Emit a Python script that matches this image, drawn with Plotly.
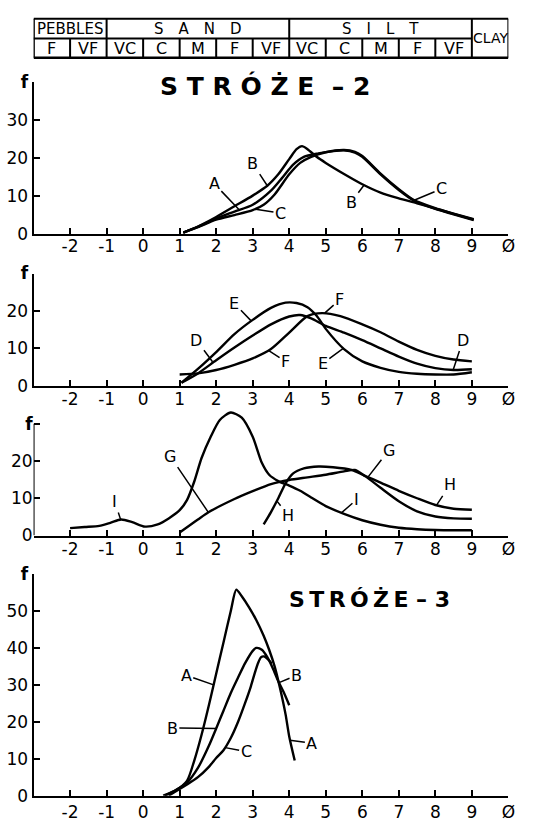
import plotly.graph_objects as go

# ---------------- data ----------------
# Header: grain-size classes along the phi scale
group_names = ["PEBBLES", "S\u2003A\u2003N\u2003D", "S\u2003I\u2003L\u2003T", "CLAY"]
group_bounds = [-3, -1, 4, 9, 10]
class_names = ["F", "VF", "VC", "C", "M", "F", "VF", "VC", "C", "M", "F", "VF"]
class_bounds = [-3, -2, -1, 0, 1, 2, 3, 4, 5, 6, 7, 8, 9]

x_tickvals = [-2, -1, 0, 1, 2, 3, 4, 5, 6, 7, 8, 9, 10]
x_ticktext = ["-2", "-1", "0", "1", "2", "3", "4", "5", "6", "7", "8", "9", "Ø"]

# Panel 1 : STRÓŻE-2, samples A, B, C
p1_A_phi = [1.1, 1.5, 2.0, 2.5, 3.0, 3.5, 3.8, 4.1, 4.4, 4.8, 5.2, 5.5, 5.8, 6.0, 6.5, 7.0, 7.4, 8.0, 8.5, 9.05]
p1_A_f = [0.5, 2.0, 4.2, 6.0, 7.8, 11.5, 14.8, 18.3, 20.4, 21.3, 21.9, 22.1, 21.5, 20.4, 15.8, 11.7, 9.0, 6.7, 5.3, 3.8]
p1_B_phi = [1.1, 1.5, 2.0, 2.5, 3.0, 3.4, 3.7, 4.0, 4.2, 4.35, 4.5, 4.75, 5.0, 5.5, 6.0, 6.5, 7.0, 7.5, 8.0, 8.5, 9.05]
p1_B_f = [0.5, 2.1, 4.6, 7.4, 10.2, 12.8, 15.8, 19.8, 22.4, 23.2, 22.4, 20.4, 18.8, 15.9, 13.2, 11.0, 9.5, 8.2, 6.8, 5.4, 3.9]
p1_C_phi = [1.1, 1.5, 2.0, 2.5, 3.0, 3.3, 3.6, 4.0, 4.3, 4.6, 5.0, 5.5, 5.8, 6.0, 6.5, 7.0, 7.4, 8.0, 8.5, 9.05]
p1_C_f = [0.5, 1.9, 3.9, 5.1, 6.4, 7.8, 10.5, 15.8, 18.8, 20.4, 21.6, 22.2, 21.7, 20.6, 16.0, 11.9, 9.1, 6.9, 5.5, 4.0]

# Panel 2 : samples D, E, F
p2_D_phi = [1.05, 1.5, 2.0, 2.5, 3.0, 3.5, 4.0, 4.3, 4.6, 5.0, 5.5, 6.0, 6.5, 7.0, 7.5, 8.0, 8.5, 9.0]
p2_D_f = [0.8, 3.3, 6.8, 10.2, 13.4, 16.4, 18.5, 18.9, 18.0, 16.0, 14.2, 12.2, 10.0, 7.8, 5.9, 4.7, 4.2, 4.4]
p2_E_phi = [1.05, 1.5, 2.0, 2.5, 3.0, 3.5, 3.9, 4.2, 4.5, 4.75, 5.0, 5.5, 6.0, 6.5, 7.0, 7.5, 8.0, 8.5, 9.0]
p2_E_f = [0.8, 4.5, 9.0, 13.8, 17.6, 20.8, 22.2, 22.1, 21.0, 18.7, 15.2, 9.8, 6.5, 4.8, 3.7, 3.2, 3.0, 3.0, 3.6]
p2_F_phi = [1.0, 1.5, 2.0, 2.5, 3.0, 3.5, 4.0, 4.5, 4.9, 5.4, 6.0, 6.5, 7.0, 7.5, 8.0, 8.5, 9.0]
p2_F_f = [3.0, 3.3, 4.2, 5.6, 7.3, 9.8, 14.2, 18.6, 19.4, 18.6, 16.4, 14.3, 11.8, 9.6, 8.0, 7.0, 6.5]

# Panel 3 : samples G, H, I
p3_G_phi = [1.0, 1.5, 1.8, 2.5, 3.0, 3.5, 4.0, 4.5, 5.0, 5.5, 5.8, 6.1, 6.5, 7.0, 7.5, 8.0, 8.5, 9.0]
p3_G_f = [0.8, 4.3, 6.3, 9.8, 11.9, 13.8, 14.9, 15.6, 16.3, 17.2, 17.6, 15.8, 12.8, 9.2, 6.5, 5.1, 4.6, 4.5]
p3_H_phi = [3.3, 3.5, 3.7, 3.9, 4.1, 4.4, 4.8, 5.2, 5.7, 6.1, 6.5, 7.0, 7.5, 8.0, 8.5, 9.0]
p3_H_f = [3.0, 6.3, 10.0, 14.0, 16.6, 18.0, 18.5, 18.3, 17.6, 15.9, 14.2, 12.0, 10.0, 8.2, 7.2, 6.9]
p3_I_phi = [-2.0, -1.6, -1.2, -0.9, -0.6, -0.3, 0.05, 0.4, 0.7, 1.0, 1.2, 1.4, 1.6, 1.85, 2.1, 2.4, 2.7,
            3.0, 3.25, 3.45, 3.7, 4.0, 4.3, 4.6, 5.0, 5.5, 6.0, 6.5, 7.0, 7.5, 8.0, 9.0]
p3_I_f = [2.0, 2.3, 2.6, 3.4, 4.3, 3.6, 2.4, 3.0, 4.6, 6.8, 9.5, 14.5, 20.8, 26.5, 31.0, 33.0, 31.6,
          26.5, 19.5, 16.3, 14.6, 13.4, 12.0, 10.2, 7.9, 5.8, 4.1, 2.9, 2.1, 1.7, 1.5, 1.4]

# Panel 4 : STRÓŻE-3, samples A, B, C
p4_A_phi = [0.55, 0.9, 1.2, 1.4, 1.6, 1.8, 2.0, 2.2, 2.4, 2.55, 2.7, 2.9, 3.1, 3.3, 3.45, 3.6, 3.75, 3.9, 4.0, 4.15]
p4_A_f = [0.0, 1.5, 4.0, 9.5, 16.5, 24.5, 33.0, 41.5, 50.0, 55.8, 54.0, 51.0, 47.5, 43.3, 39.5, 35.0, 29.0, 22.0, 16.0, 9.5]
p4_B_phi = [0.6, 0.9, 1.2, 1.5, 1.8, 2.0, 2.2, 2.4, 2.6, 2.8, 3.0, 3.1, 3.25, 3.4, 3.55, 3.7, 3.85, 4.0]
p4_B_f = [0.0, 1.5, 3.5, 7.5, 13.5, 18.2, 23.0, 27.8, 32.0, 36.0, 39.2, 40.0, 39.5, 37.5, 34.5, 31.0, 28.0, 24.5]
p4_C_phi = [0.7, 1.0, 1.2, 1.5, 1.8, 2.0, 2.2, 2.4, 2.6, 2.8, 2.95, 3.05, 3.15, 3.23, 3.31, 3.42, 3.52]
p4_C_f = [0.0, 1.8, 3.0, 5.0, 7.8, 10.2, 12.3, 15.6, 20.0, 25.3, 29.6, 33.0, 36.0, 37.5, 37.7, 36.9, 35.8]

# curve labels: (panel, text, point phi, point f, label phi, label f)
curve_labels = [
    (1, "A", 2.63, 6.5, 1.95, 13.3),
    (1, "B", 3.40, 12.8, 3.00, 18.7),
    (1, "C", 3.08, 6.6, 3.76, 5.6),
    (1, "B", 6.05, 13.0, 5.70, 8.5),
    (1, "C", 7.42, 9.0, 8.17, 12.0),
    (2, "E", 2.95, 17.4, 2.50, 22.0),
    (2, "D", 1.90, 6.4, 1.46, 12.2),
    (2, "F", 3.44, 9.4, 3.90, 6.5),
    (2, "F", 4.97, 19.4, 5.38, 23.0),
    (2, "E", 5.47, 9.9, 4.92, 6.0),
    (2, "D", 8.49, 4.3, 8.76, 12.2),
    (3, "I", -0.62, 4.4, -0.78, 9.1),
    (3, "G", 1.78, 6.3, 0.74, 21.3),
    (3, "H", 3.66, 9.3, 3.97, 5.4),
    (3, "I", 5.42, 6.0, 5.84, 9.6),
    (3, "G", 6.15, 15.6, 6.73, 22.9),
    (3, "H", 8.03, 8.1, 8.40, 13.6),
    (4, "A", 1.93, 30.0, 1.18, 32.6),
    (4, "B", 2.00, 18.2, 0.80, 18.3),
    (4, "C", 2.25, 13.0, 2.82, 11.9),
    (4, "B", 3.72, 30.6, 4.20, 32.6),
    (4, "A", 4.02, 15.0, 4.62, 14.2),
]

titles = ["S T R Ó Ż E \u00a0– 2", "S\u2009T\u2009R\u2009Ó\u2009Ż\u2009E\u00a0–\u00a03"]

# ---------------- figure ----------------
W, H = 544, 831
FONT = "DejaVu Sans"


def pyf(px):
    return (H - px) / H


x_dom = [34 / W, 515 / W]
panels = [
    dict(ydom=[pyf(230), pyf(74)], yr=[0, 40], tv=[0, 10, 20, 30, 40],
         tt=["0", "10", "20", "30", "<b>f</b>"], xso=-5),
    dict(ydom=[pyf(385), pyf(270)], yr=[0, 30], tv=[0, 10, 20, 30],
         tt=["0", "10", "20", "<b>f</b>"], xso=-3),
    dict(ydom=[pyf(538.5), pyf(406.7)], yr=[0, 34.5], tv=[0, 10, 20, 30],
         tt=["0", "10", "20", "<b>f</b>"], xso=-3),
    dict(ydom=[pyf(805), pyf(578)], yr=[0, 60], tv=[0, 10, 20, 30, 40, 50, 60],
         tt=["0", "10", "20", "30", "40", "50", "<b>f</b>"], xso=0),
]

series = {
    1: [(p1_A_phi, p1_A_f), (p1_B_phi, p1_B_f), (p1_C_phi, p1_C_f)],
    2: [(p2_D_phi, p2_D_f), (p2_E_phi, p2_E_f), (p2_F_phi, p2_F_f)],
    3: [(p3_G_phi, p3_G_f), (p3_H_phi, p3_H_f), (p3_I_phi, p3_I_f)],
    4: [(p4_A_phi, p4_A_f), (p4_B_phi, p4_B_f), (p4_C_phi, p4_C_f)],
}

fig = go.Figure()
layout = dict(
    width=W, height=H, margin=dict(l=0, r=0, t=0, b=0),
    paper_bgcolor="white", plot_bgcolor="rgba(0,0,0,0)",
    showlegend=False, font=dict(family=FONT, color="black", size=17),
)

for i, p in enumerate(panels, start=1):
    sfx = "" if i == 1 else str(i)
    layout["xaxis" + sfx] = dict(
        domain=x_dom, range=[-3, 10], anchor="y" + sfx,
        showline=True, linecolor="black", linewidth=2,
        ticks="inside", ticklen=6, tickwidth=1.5, tickcolor="black",
        tickvals=x_tickvals, ticktext=x_ticktext, ticklabelstandoff=p["xso"],
        showgrid=False, zeroline=False, fixedrange=True,
        tickfont=dict(family=FONT, size=17, color="black"),
    )
    layout["yaxis" + sfx] = dict(
        domain=p["ydom"], range=p["yr"], anchor="x" + sfx,
        showline=(i != 3), linecolor="black", linewidth=2,
        ticks="inside", ticklen=6, tickwidth=1.5, tickcolor="black",
        tickvals=p["tv"], ticktext=p["tt"],
        showgrid=False, zeroline=False, fixedrange=True,
        tickfont=dict(family=FONT, size=17, color="black"),
    )
    for xs, ys in series[i]:
        fig.add_trace(go.Scatter(
            x=xs, y=ys, mode="lines", xaxis="x" + sfx, yaxis="y" + sfx,
            line=dict(color="black", width=2.4, shape="spline", smoothing=0.7),
            hoverinfo="skip",
        ))

fig.update_layout(**layout)

shapes = []
annotations = []

# panel 3 y axis line stops at the top tick (curve I overshoots it)
shapes.append(dict(type="line", xref="x3", yref="y3", x0=-3, x1=-3, y0=0, y1=30,
                   line=dict(color="black", width=2)))

# header table
y_top, y_mid, y_bot = pyf(9), pyf(29.3), pyf(49)
lw = dict(color="black", width=2)
shapes.append(dict(type="line", xref="x", yref="paper", x0=group_bounds[0], x1=group_bounds[-1],
                   y0=y_top, y1=y_top, line=lw))
shapes.append(dict(type="line", xref="x", yref="paper", x0=group_bounds[0], x1=group_bounds[-1],
                   y0=y_bot, y1=y_bot, line=dict(color="black", width=2.6)))
shapes.append(dict(type="line", xref="x", yref="paper", x0=class_bounds[0], x1=class_bounds[-1],
                   y0=y_mid, y1=y_mid, line=lw))
for gb in group_bounds:
    shapes.append(dict(type="line", xref="x", yref="paper", x0=gb, x1=gb, y0=y_bot, y1=y_top,
                       line=dict(color="black", width=2.6 if gb == group_bounds[0] else 2)))
for cb in class_bounds:
    if cb not in group_bounds:
        shapes.append(dict(type="line", xref="x", yref="paper", x0=cb, x1=cb, y0=y_bot, y1=y_mid, line=lw))

for gi, name in enumerate(group_names):
    last = gi == len(group_names) - 1
    annotations.append(dict(
        xref="x", yref="paper", x=(group_bounds[gi] + group_bounds[gi + 1]) / 2,
        y=(y_top + y_bot) / 2 if last else (y_top + y_mid) / 2,
        text=name, showarrow=False, xanchor="center", yanchor="middle",
        font=dict(family=FONT, size=14 if last else 15, color="black"),
    ))
for ci, name in enumerate(class_names):
    annotations.append(dict(
        xref="x", yref="paper", x=(class_bounds[ci] + class_bounds[ci + 1]) / 2,
        y=(y_mid + y_bot) / 2, text=name, showarrow=False, xanchor="center", yanchor="middle",
        font=dict(family=FONT, size=16, color="black"),
    ))

# titles
annotations.append(dict(xref="paper", yref="paper", x=268 / W, y=pyf(78), text="<b>" + titles[0] + "</b>",
                        showarrow=False, xanchor="center", yanchor="middle",
                        font=dict(family=FONT, size=25, color="black")))
annotations.append(dict(xref="paper", yref="paper", x=374 / W, y=pyf(604), text="<b>" + titles[1] + "</b>",
                        showarrow=False, xanchor="center", yanchor="middle",
                        font=dict(family=FONT, size=22, color="black")))

# curve labels with leader lines
for pn, txt, x0, y0, lx, ly in curve_labels:
    sfx = "" if pn == 1 else str(pn)
    annotations.append(dict(
        xref="x" + sfx, yref="y" + sfx, x=x0, y=y0,
        axref="x" + sfx, ayref="y" + sfx, ax=lx, ay=ly,
        text=txt, showarrow=True, arrowhead=0, arrowwidth=1.5, arrowcolor="black",
        standoff=0, startstandoff=0, borderpad=1,
        font=dict(family=FONT, size=16, color="black"),
    ))

fig.update_layout(shapes=shapes, annotations=annotations)
fig.write_html("out.html")
